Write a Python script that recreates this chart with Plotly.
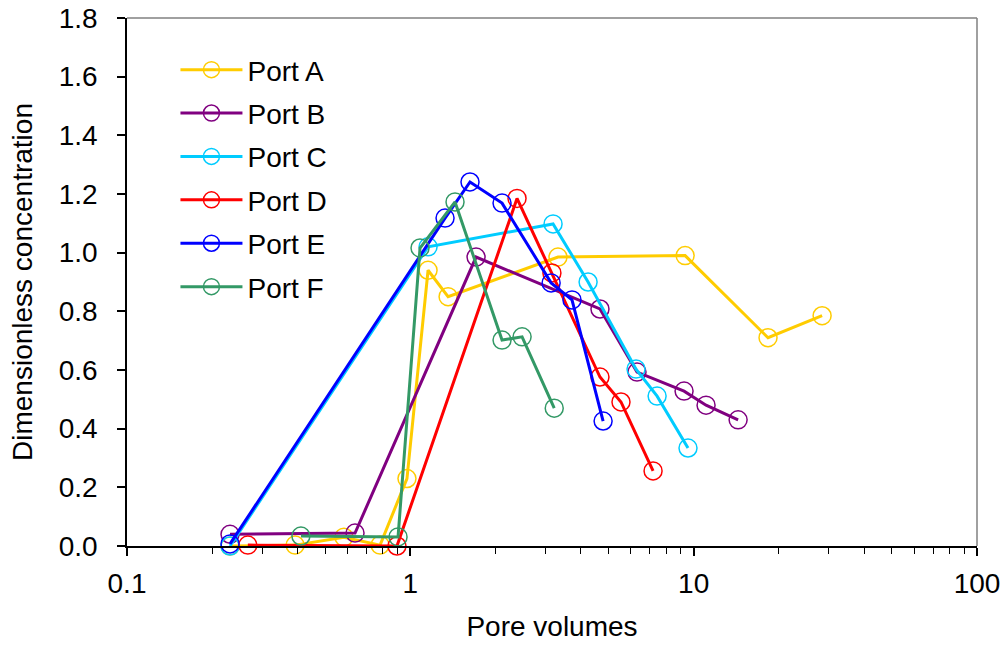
import plotly.graph_objects as go

port_a_x = [0.231, 0.392, 0.583, 0.782, 0.973, 1.155, 1.359, 3.32, 9.33, 18.3, 28.4]
port_a_y = [0.0, 0.003, 0.03, 0.003, 0.23, 0.94, 0.85, 0.985, 0.99, 0.71, 0.785]

port_b_x = [0.231, 0.638, 1.706, 4.67, 6.31, 9.25, 11.06, 14.35]
port_b_y = [0.04, 0.044, 0.985, 0.808, 0.593, 0.528, 0.48, 0.43]

port_c_x = [0.231, 1.155, 3.19, 4.24, 6.26, 7.43, 9.55]
port_c_y = [0.0, 1.02, 1.098, 0.90, 0.603, 0.511, 0.334]

port_d_x = [0.267, 0.897, 2.38, 3.16, 4.67, 5.54, 7.19]
port_d_y = [0.003, 0.0, 1.185, 0.931, 0.576, 0.491, 0.256]

port_e_x = [0.231, 1.326, 1.624, 2.107, 3.14, 3.72, 4.79]
port_e_y = [0.007, 1.118, 1.241, 1.169, 0.897, 0.839, 0.426]

port_f_x = [0.411, 0.905, 1.082, 1.438, 2.107, 2.48, 3.22]
port_f_y = [0.034, 0.031, 1.016, 1.173, 0.702, 0.713, 0.470]

names = ["Port A", "Port B", "Port C", "Port D", "Port E", "Port F"]
colors = ["#FFCC00", "#800080", "#00CCFF", "#FF0000", "#0000FF", "#339966"]
xs = [port_a_x, port_b_x, port_c_x, port_d_x, port_e_x, port_f_x]
ys = [port_a_y, port_b_y, port_c_y, port_d_y, port_e_y, port_f_y]

x_tickvals = [0.1, 1, 10, 100]
x_ticktext = ["0.1", "1", "10", "100"]

FONT = "Liberation Sans, Arial, sans-serif"
FS = 28

fig = go.Figure()
for i, (n, c, x, y) in enumerate(zip(names, colors, xs, ys)):
    fig.add_trace(go.Scatter(
        x=x, y=y, name=n, mode="lines+markers",
        line=dict(color=c, width=3),
        marker=dict(symbol="circle-open", size=18, color=c, line=dict(width=1.5, color=c)),
        legendgroup=str(i),
        cliponaxis=False,
    ))

fig.update_layout(
    width=1006, height=647,
    margin=dict(l=127, r=29, t=18, b=101, autoexpand=False),
    paper_bgcolor="white", plot_bgcolor="white",
    font=dict(family=FONT, size=FS, color="black"),
    showlegend=True,
    legend=dict(
        x=0.057, y=0.949, xanchor="left", yanchor="top",
        bgcolor="rgba(0,0,0,0)", borderwidth=0,
        font=dict(size=FS, family=FONT),
        itemwidth=62, tracegroupgap=4,
    ),
    xaxis=dict(
        type="log", range=[-1, 2], automargin=False,
        tickvals=x_tickvals, ticktext=x_ticktext,
        showgrid=False, zeroline=False,
        showline=True, linecolor="black", linewidth=1.5,
        ticks="outside", ticklen=8, tickwidth=1.5, tickcolor="black",
        ticklabelstandoff=4,
        minor=dict(ticks="outside", ticklen=6, tickwidth=1.2, tickcolor="black",
                   tickvals=[j * 10 ** k for k in (-1, 0, 1) for j in range(2, 10)]),
        title=dict(text="Pore volumes", standoff=18, font=dict(size=FS)),
        tickfont=dict(size=FS),
    ),
    yaxis=dict(
        range=[0, 1.8], dtick=0.2, tick0=0, tickformat=".1f", automargin=False,
        showgrid=False, zeroline=False,
        showline=True, linecolor="black", linewidth=1.5,
        ticks="outside", ticklen=8, tickwidth=1.5, tickcolor="black",
        ticklabelstandoff=14,
        title=dict(text="Dimensionless concentration", standoff=18, font=dict(size=FS)),
        tickfont=dict(size=FS),
    ),
    shapes=[
        dict(type="line", xref="paper", yref="paper", x0=0, x1=1, y0=1, y1=1,
             line=dict(color="#808080", width=1.5), layer="below"),
        dict(type="line", xref="paper", yref="paper", x0=1, x1=1, y0=0, y1=1,
             line=dict(color="#808080", width=1.5), layer="below"),
    ],
)

fig.write_html("out.html")
